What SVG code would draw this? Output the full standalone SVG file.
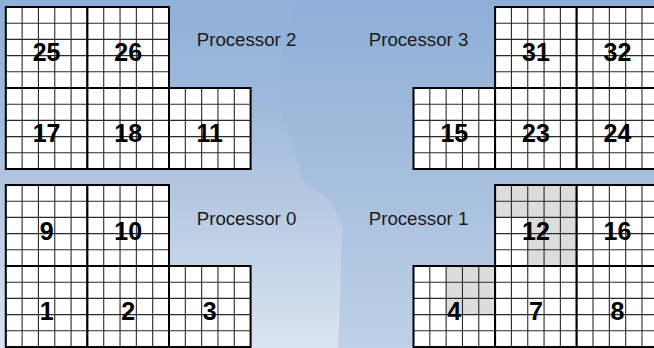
<svg xmlns="http://www.w3.org/2000/svg" xmlns:xlink="http://www.w3.org/1999/xlink" width="654" height="348" viewBox="0 0 654 348">
<style>
.cell{fill:#ffffff}
.shade{fill:#dcdcdc}
.thin{stroke:#2a2a2a;stroke-width:1.1;fill:none}
.border{fill:none;stroke:#000;stroke-width:2}
.num{font-family:"Liberation Sans",Arial,sans-serif;font-weight:bold;font-size:25px;fill:#000;text-anchor:middle}
.lbl{font-family:"Liberation Sans",Arial,sans-serif;font-size:18.7px;fill:#1a1a1a}
</style>
<defs>
<linearGradient id="bgBase" x1="0" y1="0" x2="0" y2="1">
<stop offset="0" stop-color="#8eaed7"/>
<stop offset="0.5" stop-color="#a6bedd"/>
<stop offset="1" stop-color="#bfd1e8"/>
</linearGradient>
<linearGradient id="bgLight" x1="0" y1="0" x2="0" y2="1">
<stop offset="0" stop-color="#90b0d8"/>
<stop offset="0.3" stop-color="#9fb9dc"/>
<stop offset="0.55" stop-color="#b4c7e1"/>
<stop offset="1" stop-color="#dae4f1"/>
</linearGradient>
<g id="grid">
<path class="thin" d="M16.32,0V81M32.64,0V81M48.96,0V81M65.28,0V81M0,16.2H81.6M0,32.4H81.6M0,48.6H81.6M0,64.8H81.6"/>
</g>
<rect id="blk" class="cell" x="0" y="0" width="81.6" height="81"/>
<rect id="frame" class="border" x="0" y="0" width="81.6" height="81"/>
</defs>

<rect x="0" y="0" width="654" height="348" fill="url(#bgBase)"/>
<path d="M0,0 L298,0 C290,20 278,50 280,85 L282,118 C290,135 294,150 298,165 L306,186 C316,188 326,195 334,208 L343,228 L341,260 L340,300 L338,348 L0,348 Z" fill="url(#bgLight)"/>

<g id="labels">
<text class="lbl" x="196.7" y="45.7">Processor 2</text>
<text class="lbl" x="368.7" y="45.7">Processor 3</text>
<text class="lbl" x="196.7" y="225">Processor 0</text>
<text class="lbl" x="368.7" y="225">Processor 1</text>
</g>

<!-- Processor 2 -->
<g id="b25" transform="translate(5.8,7)"><use href="#blk"/><use href="#grid"/><use href="#frame"/><text class="num" x="40.8" y="54">25</text></g>
<g id="b26" transform="translate(87.4,7)"><use href="#blk"/><use href="#grid"/><use href="#frame"/><text class="num" x="40.8" y="54">26</text></g>
<g id="b17" transform="translate(5.8,88)"><use href="#blk"/><use href="#grid"/><use href="#frame"/><text class="num" x="40.8" y="54">17</text></g>
<g id="b18" transform="translate(87.4,88)"><use href="#blk"/><use href="#grid"/><use href="#frame"/><text class="num" x="40.8" y="54">18</text></g>
<g id="b11" transform="translate(169,88)"><use href="#blk"/><use href="#grid"/><use href="#frame"/><text class="num" x="40.8" y="54">11</text></g>

<!-- Processor 3 -->
<g id="b31" transform="translate(495.1,7)"><use href="#blk"/><use href="#grid"/><use href="#frame"/><text class="num" x="40.8" y="54">31</text></g>
<g id="b32" transform="translate(576.7,7)"><use href="#blk"/><use href="#grid"/><use href="#frame"/><text class="num" x="40.8" y="54">32</text></g>
<g id="b15" transform="translate(413.5,88)"><use href="#blk"/><use href="#grid"/><use href="#frame"/><text class="num" x="40.8" y="54">15</text></g>
<g id="b23" transform="translate(495.1,88)"><use href="#blk"/><use href="#grid"/><use href="#frame"/><text class="num" x="40.8" y="54">23</text></g>
<g id="b24" transform="translate(576.7,88)"><use href="#blk"/><use href="#grid"/><use href="#frame"/><text class="num" x="40.8" y="54">24</text></g>

<!-- Processor 0 -->
<g id="b9" transform="translate(5.8,185)"><use href="#blk"/><use href="#grid"/><use href="#frame"/><text class="num" x="40.8" y="54.5">9</text></g>
<g id="b10" transform="translate(87.4,185)"><use href="#blk"/><use href="#grid"/><use href="#frame"/><text class="num" x="40.8" y="54.5">10</text></g>
<g id="b1" transform="translate(5.8,266)"><use href="#blk"/><use href="#grid"/><use href="#frame"/><text class="num" x="40.8" y="54">1</text></g>
<g id="b2" transform="translate(87.4,266)"><use href="#blk"/><use href="#grid"/><use href="#frame"/><text class="num" x="40.8" y="54">2</text></g>
<g id="b3" transform="translate(169,266)"><use href="#blk"/><use href="#grid"/><use href="#frame"/><text class="num" x="40.8" y="54">3</text></g>

<!-- Processor 1 -->
<g id="b12" transform="translate(495.1,185)"><use href="#blk"/><rect class="shade" x="0" y="0" width="81.6" height="32.4"/><rect class="shade" x="32.64" y="32.4" width="48.96" height="48.6"/><use href="#grid"/><use href="#frame"/><text class="num" x="40.8" y="54.5">12</text></g>
<g id="b16" transform="translate(576.7,185)"><use href="#blk"/><use href="#grid"/><use href="#frame"/><text class="num" x="40.8" y="54.5">16</text></g>
<g id="b4" transform="translate(413.5,266)"><use href="#blk"/><rect class="shade" x="32.64" y="0" width="48.96" height="48.6"/><use href="#grid"/><use href="#frame"/><text class="num" x="40.8" y="54">4</text></g>
<g id="b7" transform="translate(495.1,266)"><use href="#blk"/><use href="#grid"/><use href="#frame"/><text class="num" x="40.8" y="54">7</text></g>
<g id="b8" transform="translate(576.7,266)"><use href="#blk"/><use href="#grid"/><use href="#frame"/><text class="num" x="40.8" y="54">8</text></g>

<g id="connectors"></g>
</svg>
